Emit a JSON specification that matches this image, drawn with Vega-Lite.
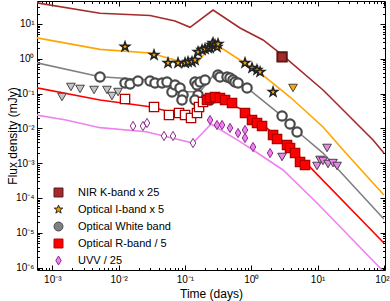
{
"$schema": "https://vega.github.io/schema/vega-lite/v6.json",
"width": 348, "height": 269,
"autosize": "none",
"padding": {"left": 37, "top": 1, "right": 5, "bottom": 31},
"config": {
  "view": {"stroke": "#000", "strokeWidth": 1},
  "font": "Liberation Sans",
  "axis": {"domain": false, "grid": false, "tickColor": "#000", "labelColor": "#000", "titleColor": "#000", "labelFont": "Liberation Sans", "titleFont": "Liberation Sans", "labelFontSize": 10, "titleFontSize": 12, "titleFontWeight": "normal", "labelFlush": false, "labelOverlap": false},
  "legend": {"title": null, "orient": "none", "legendX": 16, "legendY": 186, "padding": 0, "labelFontSize": 11, "labelFont": "Liberation Sans", "labelColor": "#000", "symbolSize": 80, "rowPadding": 4, "labelOffset": 14, "symbolStrokeWidth": 1}
},
"datasets": {
"lines": [
{"series":"NIR K-band x 25","t":5.68e-4,"flux":40.9},{"series":"NIR K-band x 25","t":5.24e-3,"flux":20.3},{"series":"NIR K-band x 25","t":0.0298,"flux":17.5},{"series":"NIR K-band x 25","t":0.071,"flux":12.2},{"series":"NIR K-band x 25","t":0.1194,"flux":8.04},{"series":"NIR K-band x 25","t":0.2655,"flux":25.2},{"series":"NIR K-band x 25","t":0.6776,"flux":7.67},{"series":"NIR K-band x 25","t":1.507,"flux":3.47},{"series":"NIR K-band x 25","t":2.917,"flux":1.29},{"series":"NIR K-band x 25","t":12.1,"flux":0.127},{"series":"NIR K-band x 25","t":15.45,"flux":0.0798},{"series":"NIR K-band x 25","t":68.7,"flux":4.64e-3},{"series":"NIR K-band x 25","t":100,"flux":1.96e-3},
{"series":"Optical I-band x 5","t":5.68e-4,"flux":4.04},{"series":"Optical I-band x 5","t":5.24e-3,"flux":1.87},{"series":"Optical I-band x 5","t":0.0298,"flux":1.47},{"series":"Optical I-band x 5","t":0.071,"flux":0.924},{"series":"Optical I-band x 5","t":0.1005,"flux":0.664},{"series":"Optical I-band x 5","t":0.1521,"flux":0.757},{"series":"Optical I-band x 5","t":0.2564,"flux":2.49},{"series":"Optical I-band x 5","t":0.3381,"flux":2.18},{"series":"Optical I-band x 5","t":0.7516,"flux":0.809},{"series":"Optical I-band x 5","t":1.358,"flux":0.391},{"series":"Optical I-band x 5","t":3.846,"flux":0.0798},{"series":"Optical I-band x 5","t":12.1,"flux":0.011},{"series":"Optical I-band x 5","t":24.3,"flux":2.39e-3},{"series":"Optical I-band x 5","t":100,"flux":1.22e-4},
{"series":"Optical White band","t":5.68e-4,"flux":0.773},{"series":"Optical White band","t":5.24e-3,"flux":0.306},{"series":"Optical White band","t":0.0298,"flux":0.246},{"series":"Optical White band","t":0.0935,"flux":0.1135},{"series":"Optical White band","t":0.169,"flux":0.1135},{"series":"Optical White band","t":0.2944,"flux":0.418},{"series":"Optical White band","t":0.5129,"flux":0.3},{"series":"Optical White band","t":0.865,"flux":0.145},{"series":"Optical White band","t":2.917,"flux":0.0227},{"series":"Optical White band","t":5.08,"flux":7.88e-3},{"series":"Optical White band","t":12.1,"flux":1.96e-3},{"series":"Optical White band","t":100,"flux":2.49e-5},
{"series":"Optical R-band / 5","t":5.68e-4,"flux":0.148},{"series":"Optical R-band / 5","t":5.24e-3,"flux":0.0655},{"series":"Optical R-band / 5","t":0.0298,"flux":0.0421},{"series":"Optical R-band / 5","t":0.1194,"flux":0.0213},{"series":"Optical R-band / 5","t":0.2477,"flux":0.0912},{"series":"Optical R-band / 5","t":0.7516,"flux":0.0338},{"series":"Optical R-band / 5","t":2.133,"flux":7.38e-3},{"series":"Optical R-band / 5","t":6.04,"flux":1.24e-3},{"series":"Optical R-band / 5","t":100,"flux":5.09e-6},
{"series":"UVV / 25","t":5.68e-4,"flux":0.0243},{"series":"UVV / 25","t":1.61e-3,"flux":0.0174},{"series":"UVV / 25","t":5.24e-3,"flux":0.0105},{"series":"UVV / 25","t":0.0259,"flux":8.04e-3},{"series":"UVV / 25","t":0.1324,"flux":3.8e-3},{"series":"UVV / 25","t":0.2477,"flux":0.0134},{"series":"UVV / 25","t":0.6776,"flux":4.15e-3},{"series":"UVV / 25","t":1.064,"flux":2.39e-3},{"series":"UVV / 25","t":3.02,"flux":6.38e-4},{"series":"UVV / 25","t":9.82,"flux":7.18e-5},{"series":"UVV / 25","t":30.9,"flux":7.57e-6},{"series":"UVV / 25","t":87.7,"flux":9.75e-7},{"series":"UVV / 25","t":100,"flux":7.48e-7}
],
"pts": [
{"series":"NIR K-band x 25","t":2.917,"flux":1.13},
{"series":"Optical I-band x 5","t":0.0125,"flux":2.23},{"series":"Optical I-band x 5","t":0.0342,"flux":1.29},{"series":"Optical I-band x 5","t":0.0556,"flux":0.757},{"series":"Optical I-band x 5","t":0.0787,"flux":0.757},{"series":"Optical I-band x 5","t":0.1005,"flux":0.757},{"series":"Optical I-band x 5","t":0.1114,"flux":0.809},{"series":"Optical I-band x 5","t":0.1279,"flux":0.809},{"series":"Optical I-band x 5","t":0.1419,"flux":0.924},{"series":"Optical I-band x 5","t":0.1578,"flux":1.57},{"series":"Optical I-band x 5","t":0.1811,"flux":1.79},{"series":"Optical I-band x 5","t":0.2009,"flux":1.91},{"series":"Optical I-band x 5","t":0.2228,"flux":2.04},{"series":"Optical I-band x 5","t":0.2393,"flux":2.04},{"series":"Optical I-band x 5","t":0.2564,"flux":2.49},{"series":"Optical I-band x 5","t":0.2655,"flux":2.84},{"series":"Optical I-band x 5","t":0.2844,"flux":2.49},{"series":"Optical I-band x 5","t":0.3048,"flux":2.18},{"series":"Optical I-band x 5","t":0.3155,"flux":2.66},{"series":"Optical I-band x 5","t":0.8054,"flux":0.757},{"series":"Optical I-band x 5","t":1.028,"flux":0.544},{"series":"Optical I-band x 5","t":1.222,"flux":0.477},{"series":"Optical I-band x 5","t":1.358,"flux":0.418},{"series":"Optical I-band x 5","t":2.133,"flux":0.111},
{"series":"Optical White band","t":5.24e-3,"flux":0.3},{"series":"Optical White band","t":0.0125,"flux":0.202},{"series":"Optical White band","t":0.0149,"flux":0.189},{"series":"Optical White band","t":0.0196,"flux":0.23},{"series":"Optical White band","t":0.0298,"flux":0.23},{"series":"Optical White band","t":0.0354,"flux":0.202},{"series":"Optical White band","t":0.0452,"flux":0.202},{"series":"Optical White band","t":0.0537,"flux":0.215},{"series":"Optical White band","t":0.0638,"flux":0.111},{"series":"Optical White band","t":0.071,"flux":0.177},{"series":"Optical White band","t":0.0843,"flux":0.145},{"series":"Optical White band","t":0.0935,"flux":0.0912},{"series":"Optical White band","t":0.0903,"flux":0.0655},{"series":"Optical White band","t":0.1419,"flux":0.215},{"series":"Optical White band","t":0.1521,"flux":0.177},{"series":"Optical White band","t":0.1578,"flux":0.0912},{"series":"Optical White band","t":0.1419,"flux":0.0655},{"series":"Optical White band","t":0.169,"flux":0.215},{"series":"Optical White band","t":0.2009,"flux":0.246},{"series":"Optical White band","t":0.2009,"flux":0.0655},{"series":"Optical White band","t":0.2393,"flux":0.0655},{"series":"Optical White band","t":0.3155,"flux":0.342},{"series":"Optical White band","t":0.3381,"flux":0.3},{"series":"Optical White band","t":0.4315,"flux":0.3},{"series":"Optical White band","t":0.4786,"flux":0.281},{"series":"Optical White band","t":0.5309,"flux":0.246},{"series":"Optical White band","t":0.5702,"flux":0.215},{"series":"Optical White band","t":0.6324,"flux":0.202},{"series":"Optical White band","t":0.865,"flux":0.145},{"series":"Optical White band","t":2.917,"flux":0.0227},{"series":"Optical White band","t":3.846,"flux":0.0134},{"series":"Optical White band","t":4.909,"flux":7.88e-3},
{"series":"Optical R-band / 5","t":0.0125,"flux":0.07},{"series":"Optical R-band / 5","t":0.0342,"flux":0.0412},{"series":"Optical R-band / 5","t":0.0575,"flux":0.0243},{"series":"Optical R-band / 5","t":0.0815,"flux":0.0277},{"series":"Optical R-band / 5","t":0.1005,"flux":0.0243},{"series":"Optical R-band / 5","t":0.1236,"flux":0.0199},{"series":"Optical R-band / 5","t":0.1521,"flux":0.0277},{"series":"Optical R-band / 5","t":0.1633,"flux":0.0412},{"series":"Optical R-band / 5","t":0.1875,"flux":0.0574},{"series":"Optical R-band / 5","t":0.2153,"flux":0.0655},{"series":"Optical R-band / 5","t":0.2393,"flux":0.0748},{"series":"Optical R-band / 5","t":0.2844,"flux":0.0798},{"series":"Optical R-band / 5","t":0.3381,"flux":0.0748},{"series":"Optical R-band / 5","t":0.4027,"flux":0.0655},{"series":"Optical R-band / 5","t":0.5129,"flux":0.0537},{"series":"Optical R-band / 5","t":0.8054,"flux":0.0277},{"series":"Optical R-band / 5","t":1.028,"flux":0.0174},{"series":"Optical R-band / 5","t":1.222,"flux":0.0143},{"series":"Optical R-band / 5","t":1.455,"flux":0.0117},{"series":"Optical R-band / 5","t":2.133,"flux":6.46e-3},{"series":"Optical R-band / 5","t":2.449,"flux":4.95e-3},{"series":"Optical R-band / 5","t":3.467,"flux":3.33e-3},{"series":"Optical R-band / 5","t":3.846,"flux":2.74e-3},{"series":"Optical R-band / 5","t":4.581,"flux":1.96e-3},{"series":"Optical R-band / 5","t":5.445,"flux":1.08e-3},{"series":"Optical R-band / 5","t":6.47,"flux":8.87e-4},
{"series":"UVV / 25","t":0.0165,"flux":0.0117},{"series":"UVV / 25","t":0.0233,"flux":0.0117},{"series":"UVV / 25","t":0.0268,"flux":0.0143},{"series":"UVV / 25","t":0.0484,"flux":6.05e-3},{"series":"UVV / 25","t":0.0662,"flux":6.05e-3},{"series":"UVV / 25","t":0.1324,"flux":3.8e-3},{"series":"UVV / 25","t":0.2393,"flux":0.0174},{"series":"UVV / 25","t":0.3048,"flux":0.0125},{"series":"UVV / 25","t":0.3631,"flux":0.0125},{"series":"UVV / 25","t":0.4786,"flux":0.0103},{"series":"UVV / 25","t":0.6324,"flux":7.38e-3},{"series":"UVV / 25","t":0.8054,"flux":9.0e-3},{"series":"UVV / 25","t":0.8054,"flux":5.3e-3},{"series":"UVV / 25","t":1.064,"flux":2.92e-3},{"series":"UVV / 25","t":1.923,"flux":1.96e-3}
],
"lims": [
{"series":"Optical I-band x 5","t":4.266,"flux":0.145},
{"series":"Optical White band","t":1.4e-3,"flux":0.0798},{"series":"Optical White band","t":1.91e-3,"flux":0.155},{"series":"Optical White band","t":2.62e-3,"flux":0.136},{"series":"Optical White band","t":4.26e-3,"flux":0.127},{"series":"Optical White band","t":6.68e-3,"flux":0.127},{"series":"Optical White band","t":7.94e-3,"flux":0.0853},{"series":"Optical White band","t":9.8e-3,"flux":0.111},
{"series":"UVV / 25","t":2.917,"flux":1.51e-3},{"series":"UVV / 25","t":9.82,"flux":8.32e-4},{"series":"UVV / 25","t":10.9,"flux":1.24e-3},{"series":"UVV / 25","t":12.1,"flux":1.16e-3},{"series":"UVV / 25","t":13.9,"flux":2.74e-3},{"series":"UVV / 25","t":14.4,"flux":9.48e-4},{"series":"UVV / 25","t":17.1,"flux":1.01e-3},{"series":"UVV / 25","t":19.7,"flux":8.32e-4}
]
},
"layer": [
{
  "data": {"name": "lines"},
  "mark": {"type": "line", "strokeWidth": 1.6, "clip": true},
  "encoding": {
    "x": {"field": "t", "type": "quantitative", "scale": {"type": "log", "domain": [5.88e-4, 104], "nice": false},
      "axis": {"orient": "bottom", "values": [0.001, 0.01, 0.1, 1, 10, 100], "tickSize": -5, "labelPadding": 9, "title": "Time (days)", "titlePadding": 4,
        "labelOffset": {"condition": {"test": "datum.value >= 100", "value": -2}, "value": 0},
        "labelExpr": "'10' + (round(log(datum.value)/LN10) < 0 ? '⁻' : '') + ['⁰','¹','²','³','⁴','⁵','⁶','⁷'][abs(round(log(datum.value)/LN10))]"}},
    "y": {"field": "flux", "type": "quantitative", "scale": {"type": "log", "domain": [8.53e-7, 45.8], "nice": false},
      "axis": {"orient": "left", "values": [1e-6, 1e-5, 1e-4, 1e-3, 0.01, 0.1, 1, 10], "tickSize": -5, "labelPadding": 8, "title": "Flux density (mJy)", "titleX": -25, "titleY": 134.5, "titleBaseline": "middle", "titleAlign": "center",
        "labelExpr": "'10' + (round(log(datum.value)/LN10) < 0 ? '⁻' : '') + ['⁰','¹','²','³','⁴','⁵','⁶','⁷'][abs(round(log(datum.value)/LN10))]"}},
    "color": {"field": "series", "type": "nominal", "legend": null,
      "scale": {"domain": ["UVV / 25", "Optical R-band / 5", "Optical White band", "Optical I-band x 5", "NIR K-band x 25"], "range": ["#ee82ee", "#ff0000", "#808080", "#ffa500", "#a52a2a"]}}
  }
},
{
  "data": {"name": "lims"},
  "mark": {"type": "point", "filled": true, "shape": "triangle-down", "size": 75, "strokeWidth": 1, "stroke": "#444", "opacity": 1},
  "encoding": {
    "x": {"field": "t", "type": "quantitative", "axis": {"orient": "top", "values": [0.001, 0.01, 0.1, 1, 10, 100], "tickSize": -5, "labels": false, "title": null}},
    "y": {"field": "flux", "type": "quantitative", "axis": {"orient": "right", "values": [1e-6, 1e-5, 1e-4, 1e-3, 0.01, 0.1, 1, 10], "tickSize": -5, "labels": false, "title": null}},
    "color": {"field": "series", "type": "nominal", "legend": null,
      "condition": {"test": "datum.series == 'Optical White band'", "value": "#c4c4c4"}}
  }
},
{
  "data": {"name": "pts"},
  "mark": {"type": "point", "filled": true, "opacity": 1},
  "encoding": {
    "x": {"field": "t", "type": "quantitative", "axis": {"orient": "bottom", "values": [6e-4,7e-4,8e-4,9e-4,2e-3,3e-3,4e-3,5e-3,6e-3,7e-3,8e-3,9e-3,0.02,0.03,0.04,0.05,0.06,0.07,0.08,0.09,0.2,0.3,0.4,0.5,0.6,0.7,0.8,0.9,2,3,4,5,6,7,8,9,20,30,40,50,60,70,80,90], "tickSize": -2.5, "labels": false, "title": null}},
    "y": {"field": "flux", "type": "quantitative", "axis": {"orient": "left", "values": [9e-7,2e-6,3e-6,4e-6,5e-6,6e-6,7e-6,8e-6,9e-6,2e-5,3e-5,4e-5,5e-5,6e-5,7e-5,8e-5,9e-5,2e-4,3e-4,4e-4,5e-4,6e-4,7e-4,8e-4,9e-4,2e-3,3e-3,4e-3,5e-3,6e-3,7e-3,8e-3,9e-3,0.02,0.03,0.04,0.05,0.06,0.07,0.08,0.09,0.2,0.3,0.4,0.5,0.6,0.7,0.8,0.9,2,3,4,5,6,7,8,9,20,30,40], "tickSize": -2.5, "labels": false, "title": null}},
    "fill": {"field": "series", "type": "nominal",
      "condition": {"test": "datum.series == 'Optical White band' || (datum.t < 0.2 && (datum.series == 'Optical R-band / 5' || datum.series == 'UVV / 25'))", "value": "#ffffff"},
      "scale": {"domain": ["NIR K-band x 25", "Optical I-band x 5", "Optical White band", "Optical R-band / 5", "UVV / 25"], "range": ["#a52a2a", "#ffa500", "#808080", "#ff0000", "#ee82ee"]}},
    "stroke": {"field": "series", "type": "nominal",
      "scale": {"domain": ["NIR K-band x 25", "Optical I-band x 5", "Optical White band", "Optical R-band / 5", "UVV / 25"], "range": ["#5a1515", "#222222", "#4a4a4a", "#b00000", "#8a2b8a"]}},
    "shape": {"field": "series", "type": "nominal",
      "scale": {"domain": ["NIR K-band x 25", "Optical I-band x 5", "Optical White band", "Optical R-band / 5", "UVV / 25"], "range": ["square", "M0,-1L0.235,-0.324L0.951,-0.309L0.38,0.124L0.588,0.809L0,0.4L-0.588,0.809L-0.38,0.124L-0.951,-0.309L-0.235,-0.324Z", "circle", "square", "M0,-1L0.6,0L0,1L-0.6,0Z"]}},
    "size": {"field": "series", "type": "nominal", "legend": null,
      "scale": {"domain": ["Optical I-band x 5", "NIR K-band x 25", "Optical White band", "Optical R-band / 5", "UVV / 25"], "range": [90, 85, 40, 70, 100]}},
    "strokeWidth": {"field": "series", "type": "nominal", "legend": null,
      "scale": {"domain": ["Optical White band", "NIR K-band x 25", "Optical I-band x 5", "Optical R-band / 5", "UVV / 25"], "range": [2.2, 1, 0.9, 1.4, 1.2]}}
  }
},
{
  "data": {"name": "lims"},
  "mark": {"type": "point", "opacity": 0},
  "encoding": {
    "x": {"field": "t", "type": "quantitative", "axis": {"orient": "top", "values": [6e-4,7e-4,8e-4,9e-4,2e-3,3e-3,4e-3,5e-3,6e-3,7e-3,8e-3,9e-3,0.02,0.03,0.04,0.05,0.06,0.07,0.08,0.09,0.2,0.3,0.4,0.5,0.6,0.7,0.8,0.9,2,3,4,5,6,7,8,9,20,30,40,50,60,70,80,90], "tickSize": -2.5, "labels": false, "title": null}},
    "y": {"field": "flux", "type": "quantitative", "axis": {"orient": "right", "values": [9e-7,2e-6,3e-6,4e-6,5e-6,6e-6,7e-6,8e-6,9e-6,2e-5,3e-5,4e-5,5e-5,6e-5,7e-5,8e-5,9e-5,2e-4,3e-4,4e-4,5e-4,6e-4,7e-4,8e-4,9e-4,2e-3,3e-3,4e-3,5e-3,6e-3,7e-3,8e-3,9e-3,0.02,0.03,0.04,0.05,0.06,0.07,0.08,0.09,0.2,0.3,0.4,0.5,0.6,0.7,0.8,0.9,2,3,4,5,6,7,8,9,20,30,40], "tickSize": -2.5, "labels": false, "title": null}}
  }
}
],
"resolve": {"axis": {"x": "independent", "y": "independent"}}
}
